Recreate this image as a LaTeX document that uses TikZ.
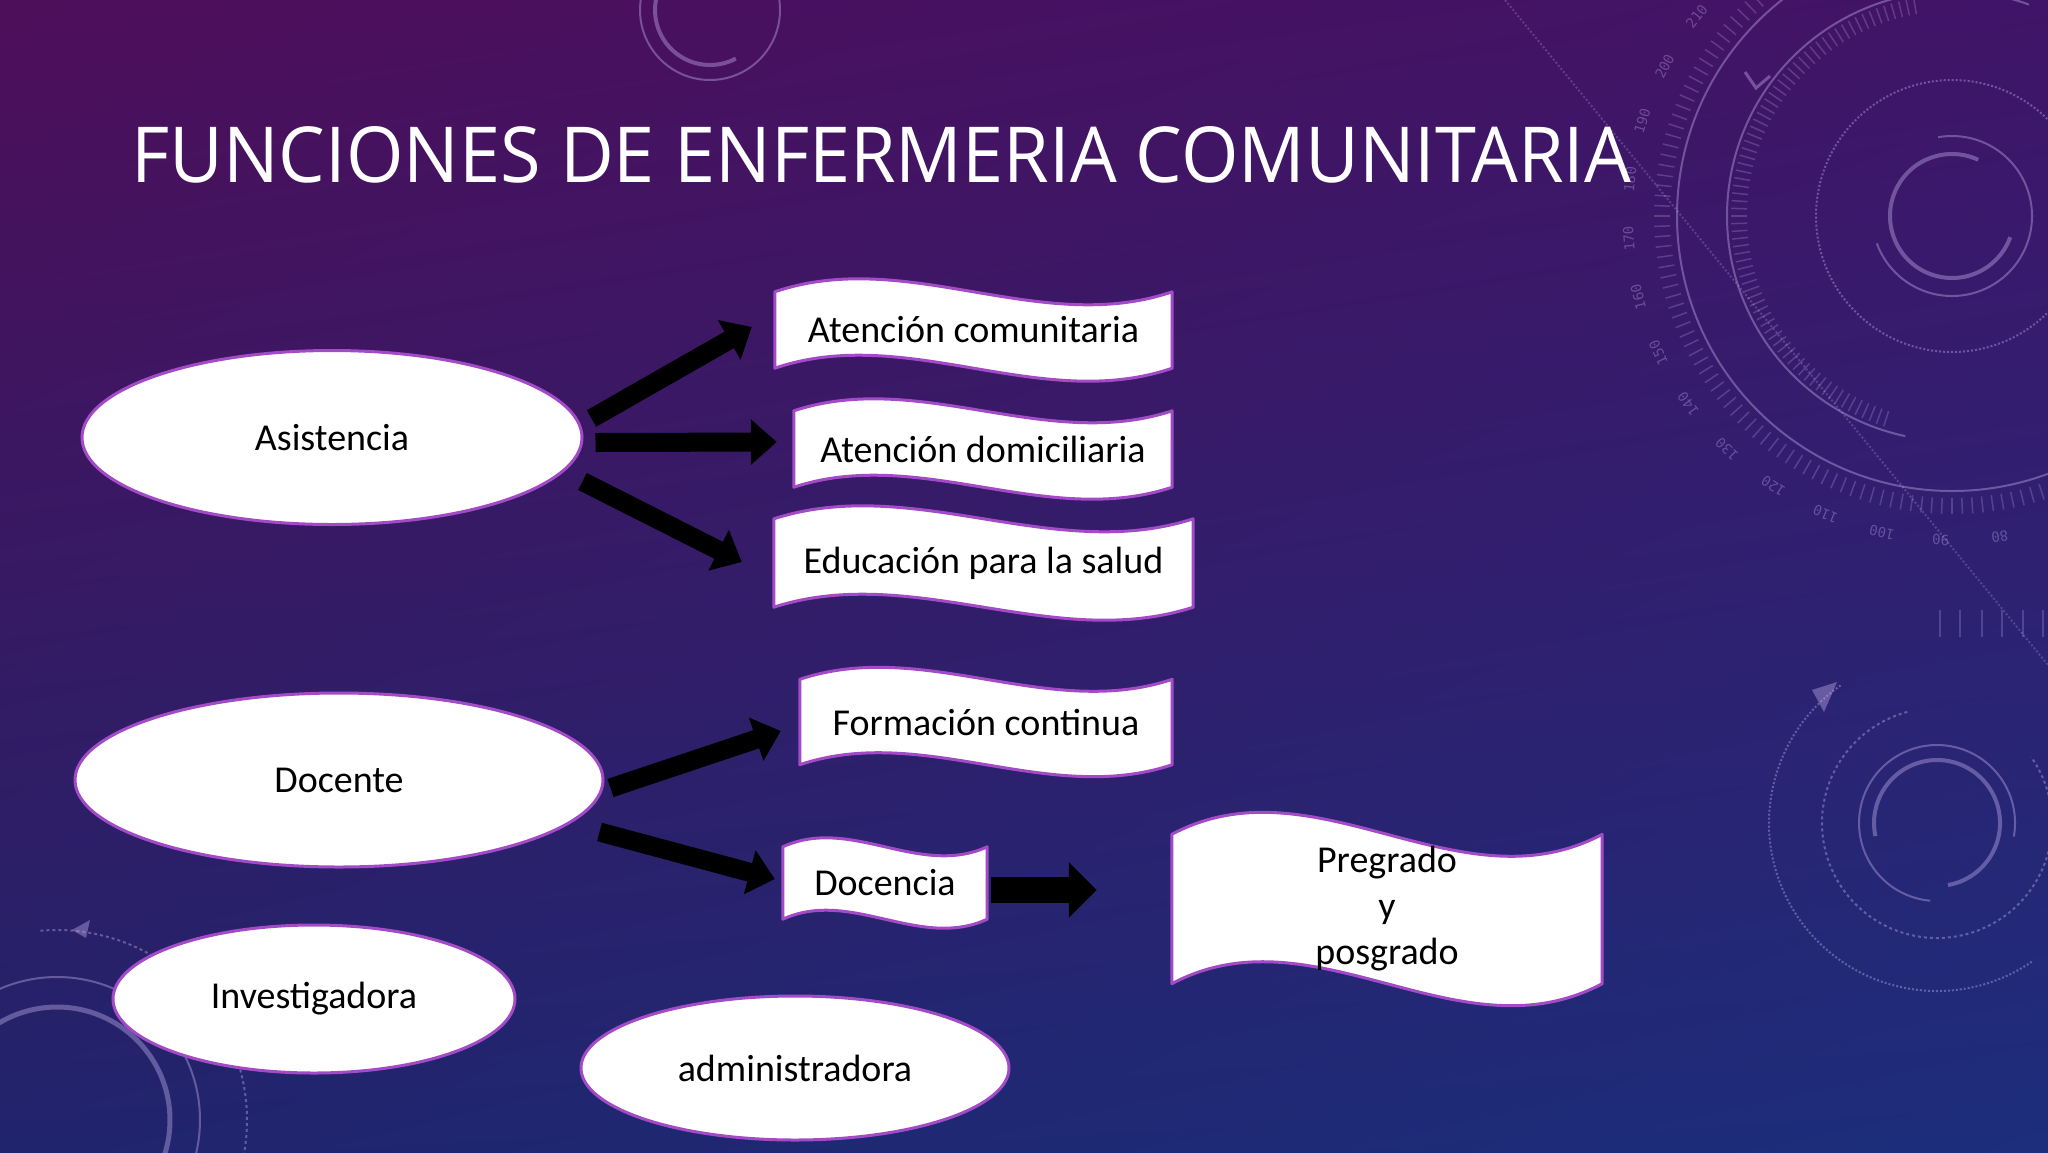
\documentclass[tikz,border=0pt]{standalone}
\usepackage{fontspec}
\setmainfont{Carlito}
\newfontfamily\titlefont{Open Sans}
\newfontfamily\dialfont{DejaVu Sans Mono}
\usetikzlibrary{shapes.geometric,arrows.meta,calc,shadings}
\pgfdeclarelayer{bg}
\pgfdeclarelayer{deco}
\pgfsetlayers{bg,deco,main}
\definecolor{bordpurple}{RGB}{163,74,199}
\definecolor{bgTL}{RGB}{78,14,90}
\definecolor{bgTR}{RGB}{64,20,104}
\definecolor{bgBL}{RGB}{32,36,108}
\definecolor{bgBR}{RGB}{28,46,124}
\definecolor{dialcol}{RGB}{196,176,236}
\tikzset{
  oval/.style={ellipse, draw=bordpurple, fill=white, line width=3pt, inner sep=0pt,
    font=\fontsize{38}{46}\selectfont},
  wavebox/.style={rectangle, inner sep=0pt, align=center, font=\fontsize{38}{46}\selectfont},
  waveline/.style={draw=bordpurple, fill=white, line width=3pt, line join=round},
  blockarrow/.style={black, line width=19pt, -{Triangle[length=26pt,width=44pt]}},
  bigarrow/.style={black, line width=26pt, -{Triangle[length=28pt,width=54pt]}},
  deco/.style={draw=dialcol, draw opacity=0.4, line width=2pt},
  decofaint/.style={draw=dialcol, draw opacity=0.25, line width=1.5pt},
  dialtext/.style={text=dialcol, text opacity=0.35, inner sep=0pt,
    font=\dialfont\fontsize{14}{14}\selectfont},
}
\newcommand\wavefill[2]{%
  \draw[waveline] (#1.north west)
    .. controls ($(#1.north west)!0.333!(#1.north east)+(0,3.46*#2)$)
       and ($(#1.north west)!0.667!(#1.north east)+(0,-3.46*#2)$) .. (#1.north east)
    -- (#1.south east)
    .. controls ($(#1.south west)!0.667!(#1.south east)+(0,-3.46*#2)$)
       and ($(#1.south west)!0.333!(#1.south east)+(0,3.46*#2)$) .. (#1.south west)
    -- cycle;}
\begin{document}
\begin{tikzpicture}[x=1pt,y=1pt]
\useasboundingbox (0,0) rectangle (2048,-1152);
\begin{pgfonlayer}{bg}
  \shade[upper left=bgTL, upper right=bgTR, lower left=bgBL, lower right=bgBR]
    (0,0) rectangle (2048,-1152);
  \begin{scope}
    \clip (0,0) rectangle (2048,-1152);
    % top-right dial
    \coordinate (dialc) at (1952,-216);
    \draw[deco] (dialc) circle[radius=275];
    \draw[deco] ([shift={(70:225)}]dialc) arc[start angle=70, end angle=258, radius=225];
    \draw[deco, dotted, line width=2pt] (dialc) circle[radius=136];
    \draw[deco, line width=4pt] ([shift={(65:62)}]dialc) arc[start angle=65, end angle=340, radius=62];
    \draw[deco] ([shift={(-160:80)}]dialc) arc[start angle=-160, end angle=100, radius=80];
    \foreach \a in {120,122,...,300} \draw[decofaint] ($(dialc)+(\a:282)$) -- ($(dialc)+(\a:298)$);
    \foreach \a in {100,102,...,252} \draw[decofaint] ($(dialc)+(\a:205)$) -- ($(dialc)+(\a:221)$);
    \foreach \n in {80,90,...,210}{
      \pgfmathsetmacro\ang{268-(\n-90)*1.05}
      \node[dialtext, rotate=\ang-90] at ($(dialc)+(\ang:324)$) {\n};
    }
    \draw[deco, draw opacity=0.25, dotted, line width=2pt] (1505,0) -- (2048,-665);
    \draw[deco, line width=3pt] (1745,-72) -- (1756,-88) -- (1770,-76);
    % lower-right dial
    \coordinate (dialr) at (1937,-823);
    \draw[deco, line width=4pt] ([shift={(-80:63)}]dialr) arc[start angle=-80, end angle=192, radius=63];
    \draw[deco] ([shift={(-10:78)}]dialr) arc[start angle=-10, end angle=265, radius=78];
    \draw[deco, dashed, line width=2pt] ([shift={(105:115)}]dialr) arc[start angle=105, end angle=395, radius=115];
    \draw[deco, dotted, line width=2pt] ([shift={(125:168)}]dialr) arc[start angle=125, end angle=305, radius=168];
    \fill[dialcol, opacity=0.4] (1837,-682) -- (1812,-690) -- (1824,-712) -- cycle;
    \foreach \x in {1940,1960,1982,2002,2023,2043} \draw[decofaint] (\x,-610) -- (\x,-637);
    % top dial
    \coordinate (dialt) at (710,-10);
    \draw[deco] (dialt) circle[radius=70];
    \draw[deco, line width=4pt] ([shift={(150:55)}]dialt) arc[start angle=150, end angle=298, radius=55];
    % bottom-left dial
    \coordinate (dialb) at (57,-1120);
    \draw[deco] (dialb) circle[radius=143];
    \draw[deco, line width=5pt] (dialb) circle[radius=113];
    \draw[deco, dashed, line width=2pt] ([shift={(95:190)}]dialb) arc[start angle=95, end angle=-10, radius=190];
    \fill[dialcol, opacity=0.4] (72,-930) -- (90,-920) -- (86,-938) -- cycle;
  \end{scope}
\end{pgfonlayer}

% title
\node[anchor=west, inner sep=0pt, text=white] (title) at (131,-155)
  {\resizebox{1499pt}{56pt}{\titlefont FUNCIONES DE ENFERMERIA COMUNITARIA}};

% ellipses
\node[oval, minimum width=500, minimum height=174] (asis) at (332,-437.5) {Asistencia};
\node[oval, minimum width=528, minimum height=174] (doce) at (339,-780) {Docente};
\node[oval, minimum width=402, minimum height=148] (inv) at (314,-999) {Investigadora};
\node[oval, minimum width=428, minimum height=144] (adm) at (795,-1068) {administradora};

% wave boxes
\node[wavebox, minimum width=397, minimum height=76] (aco) at (973.5,-330) {Atención comunitaria};
\node[wavebox, minimum width=378, minimum height=76] (adom) at (983,-449) {Atención domiciliaria};
\node[wavebox, minimum width=419, minimum height=88] (edu) at (983.5,-563) {Educación para la salud};
\node[wavebox, minimum width=372, minimum height=85] (fcon) at (986,-722) {Formación continua};
\node[wavebox, minimum width=204, minimum height=72] (doc) at (885,-883) {Docencia};
\node[wavebox, minimum width=430, minimum height=149] (pre) at (1387,-909) {Pregrado\\y\\posgrado};

\begin{pgfonlayer}{deco}
  \wavefill{aco}{13}
  \wavefill{adom}{12}
  \wavefill{edu}{13}
  \wavefill{fcon}{12}
  \wavefill{doc}{9}
  \wavefill{pre}{22}
\end{pgfonlayer}

% arrows
\draw[blockarrow] ([shift={(8,19)}]asis.east) -- ([shift={(-23,3)}]aco.west);
\draw[blockarrow] ([shift={(12,-5)}]asis.east) -- ([shift={(-17,7)}]adom.west);
\draw[blockarrow] ([shift={(-1,-44)}]asis.east) -- ([shift={(-32,1)}]edu.west);
\draw[blockarrow] ([shift={(6,-8)}]doce.east) -- ([shift={(-19,-9)}]fcon.west);
\draw[blockarrow] ([shift={(-5,-52)}]doce.east) -- ([shift={(-8,4)}]doc.west);
\draw[bigarrow] ([shift={(4,-7)}]doc.east) -- ([shift={(-75,19)}]pre.west);
\end{tikzpicture}
\end{document}
